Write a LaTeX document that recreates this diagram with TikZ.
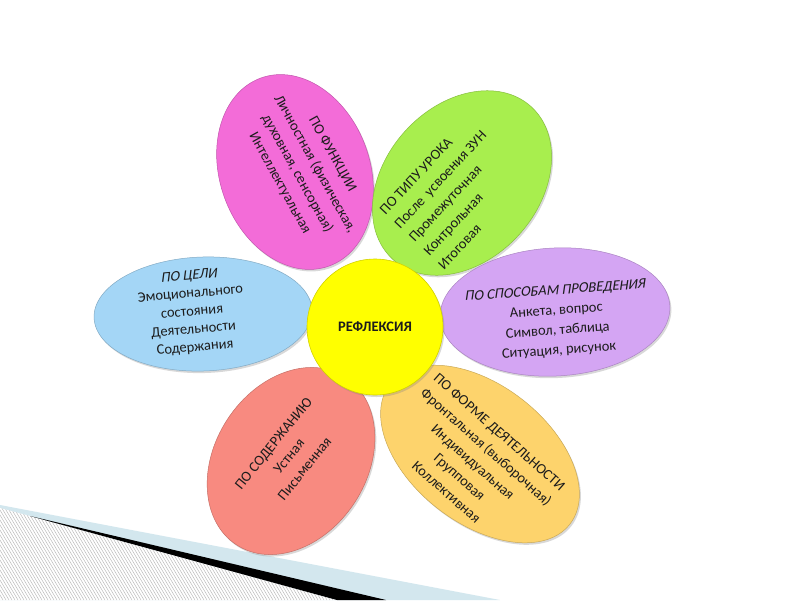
\documentclass[tikz,border=0pt]{standalone}
\usepackage{fontspec}
\setmainfont{Carlito}
\newfontfamily\slantfont{Carlito}[FakeSlant=0.22]
\usetikzlibrary{shapes.geometric,shadows}
\definecolor{pinkp}{HTML}{F36CD8}
\definecolor{greenp}{HTML}{A8EE4E}
\definecolor{bluep}{HTML}{A4D6F6}
\definecolor{purplep}{HTML}{D4A5F3}
\definecolor{redp}{HTML}{F88A80}
\definecolor{orangep}{HTML}{FDD36C}
\definecolor{yellowc}{HTML}{FFFF00}
\definecolor{bandblue}{HTML}{D3E7EE}
\definecolor{inktext}{HTML}{1C1C1C}
\begin{document}
\begin{tikzpicture}[x=1pt,y=-1pt,
  petal/.style={ellipse, inner sep=0pt, draw=#1!80!black, line width=0.5pt, fill=#1,
    drop shadow={opacity=0.3, shadow xshift=1.5pt, shadow yshift=-2pt}},
  ptext/.style={align=center, inner sep=0pt, text=inktext, font=\fontsize{14.5}{20}\selectfont},
]
\useasboundingbox (0,0) rectangle (800,600);
\fill[white] (0,0) rectangle (800,600);

% bottom-left decoration
\fill[bandblue] (0,505) -- (500,600) -- (0,600) -- cycle;
\begin{scope}
  \clip (0,508) -- (30,516) -- (337,600) -- (0,600) -- cycle;
  \fill[white] (0,500) rectangle (400,600);
  \foreach \i in {-120,-117,...,400} \draw[gray!55, line width=0.5pt] (\i,500) -- (\i+60,600);
\end{scope}
\fill[black] (30,516) -- (386,600) -- (337,600) -- cycle;

% petals
\node[petal=pinkp,   minimum width=200pt, minimum height=150pt, rotate=-70] (p1) at (295,172) {};
\node[petal=greenp,  minimum width=206pt, minimum height=154pt, rotate=48]  (p2) at (462,183) {};
\node[petal=bluep,   minimum width=218pt, minimum height=114pt, rotate=2]   (p3) at (203,314) {};
\node[petal=purplep, minimum width=230pt, minimum height=128pt, rotate=3]   (p4) at (555,312) {};
\node[petal=redp,    minimum width=200pt, minimum height=152pt, rotate=57]  (p5) at (291,461) {};
\node[petal=orangep, minimum width=228pt, minimum height=138pt, rotate=-38] (p6) at (480,454) {};

% centre
\node[circle, inner sep=0pt, minimum size=136pt, fill=yellowc, draw=yellowc!82!black, line width=0.6pt,
  drop shadow={opacity=0.3, shadow xshift=1.5pt, shadow yshift=-2pt},
  text=inktext, font=\fontsize{14.5}{17}\selectfont\bfseries] (c) at (375,327) {РЕФЛЕКСИЯ};

% texts
\node[ptext, rotate=-61] (t1) at (306,169) {ПО ФУНКЦИИ\\Личностная (физическая,\\духовная, сенсорная)\\Интеллектуальная};
\node[ptext, align=left, rotate=47] (t2) at (455,193) {ПО ТИПУ УРОКА\\После\ \ усвоения ЗУН\\Промежуточная\\Контрольная\\Итоговая};
\node[ptext, font=\fontsize{14.5}{18}\selectfont, rotate=5] (t3) at (192,312) {{\slantfont ПО ЦЕЛИ}\\Эмоционального\\состояния\\Деятельности\\Содержания};
\node[ptext, rotate=4] (t4) at (557,321) {{\slantfont ПО СПОСОБАМ ПРОВЕДЕНИЯ}\\Анкета, вопрос\\Символ, таблица\\Ситуация, рисунок};
\node[ptext, rotate=51] (t5) at (289,456) {ПО СОДЕРЖАНИЮ\\Устная\\Письменная};
\node[ptext, rotate=-41.5] (t6) at (473,462) {ПО ФОРМЕ ДЕЯТЕЛЬНОСТИ\\Фронтальная (выборочная)\\Индивидуальная\\Групповая\\Коллективная};
\end{tikzpicture}
\end{document}
